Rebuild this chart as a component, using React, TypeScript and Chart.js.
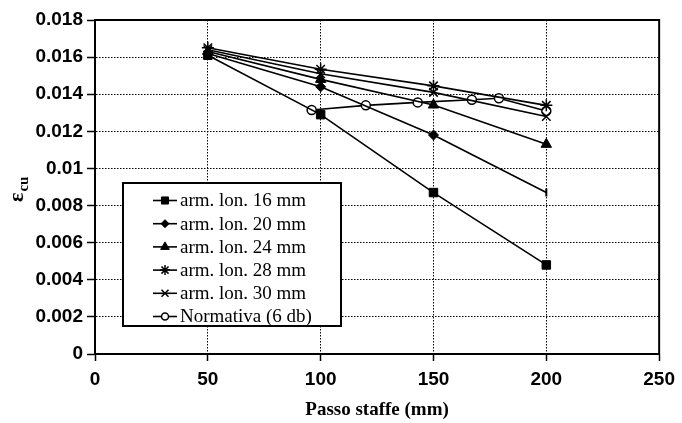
import React, { useEffect, useRef } from 'react';
import { Chart, registerables } from 'chart.js';
import { drawPoint } from 'chart.js/helpers';

Chart.register(...registerables);

// ---- data ----
const xMin = 0;
const xMax = 250;
const xStep = 50;
const yMin = 0;
const yMax = 0.018;
const yStep = 0.002;

const passo = [50, 100, 150, 200];
const arm16 = [0.0161, 0.0129, 0.0087, 0.0048];
const arm20 = [0.0162, 0.0144, 0.0118, 0.0087];
const arm24 = [0.0163, 0.0148, 0.01342, 0.0113];
const arm28 = [0.0165, 0.01535, 0.01445, 0.0134];
const arm30 = [0.0164, 0.0151, 0.0141, 0.0128];
const normX = [96, 120, 143, 167, 179, 200];
const normY = [0.01315, 0.0134, 0.01356, 0.0137, 0.01378, 0.0131];

const labels = [
  'arm. lon. 16 mm',
  'arm. lon. 20 mm',
  'arm. lon. 24 mm',
  'arm. lon. 28 mm',
  'arm. lon. 30 mm',
  'Normativa (6 db)',
];
const xTitle = 'Passo staffe (mm)';
const yTitleMain = 'ε';
const yTitleSub = 'cu';

const toPts = (xs: number[], ys: number[]) => xs.map((x, i) => ({ x, y: ys[i] }));

const series = (label: string, xs: number[], ys: number[], extra: any) => ({
  label,
  data: toPts(xs, ys),
  borderColor: '#000',
  backgroundColor: '#000',
  borderWidth: 1.6,
  pointBackgroundColor: '#000',
  pointBorderColor: '#000',
  pointBorderWidth: 1,
  tension: 0,
  fill: false,
  ...extra,
});

const framePlugin = {
  id: 'frame',
  beforeDatasetsDraw(chart: any) {
    const { ctx, chartArea: a } = chart;
    ctx.save();
    ctx.strokeStyle = '#000';
    ctx.lineWidth = 2;
    ctx.strokeRect(a.left, a.top, a.right - a.left, a.bottom - a.top);
    ctx.restore();
  },
};

const yTitlePlugin = {
  id: 'ytitle',
  afterDraw(chart: any) {
    const { ctx } = chart;
    ctx.save();
    ctx.translate(23, 202);
    ctx.rotate(-Math.PI / 2);
    ctx.fillStyle = '#000';
    ctx.textBaseline = 'alphabetic';
    ctx.textAlign = 'left';
    ctx.font = "bold 22px 'Liberation Serif'";
    ctx.fillText(yTitleMain, 0, 0);
    const w = ctx.measureText(yTitleMain).width;
    ctx.font = "bold 15px 'Liberation Serif'";
    ctx.fillText(yTitleSub, w + 1, 5);
    ctx.restore();
  },
};

const first = (v: any) => (Array.isArray(v) ? v[0] : v);

const legendPlugin = {
  id: 'boxLegend',
  afterDraw(chart: any) {
    const { ctx } = chart;
    const left = 123, top = 183, right = 341, bottom = 326;
    ctx.save();
    ctx.fillStyle = '#fff';
    ctx.fillRect(left, top, right - left, bottom - top);
    ctx.strokeStyle = '#000';
    ctx.lineWidth = 2;
    ctx.strokeRect(left, top, right - left, bottom - top);
    const rowH = 23.2;
    const y0 = 200.5;
    chart.data.datasets.forEach((ds: any, i: number) => {
      const y = y0 + i * rowH;
      ctx.strokeStyle = '#000';
      ctx.lineWidth = 1.6;
      ctx.setLineDash([]);
      ctx.beginPath();
      ctx.moveTo(153, y);
      ctx.lineTo(177, y);
      ctx.stroke();
      ctx.fillStyle = first(ds.pointBackgroundColor);
      ctx.strokeStyle = '#000';
      ctx.lineWidth = first(ds.pointBorderWidth);
      drawPoint(ctx, {
        pointStyle: first(ds.pointStyle),
        rotation: 0,
        radius: Math.max(3.5, first(ds.pointRadius) - 1),
        borderWidth: first(ds.pointBorderWidth),
      } as any, 165, y);
      ctx.fillStyle = '#000';
      ctx.font = "19px 'Liberation Serif'";
      ctx.textBaseline = 'middle';
      ctx.textAlign = 'left';
      ctx.fillText(ds.label, 180, y + 1);
    });
    ctx.restore();
  },
};

export default function App() {
  const ref = useRef<HTMLCanvasElement | null>(null);
  useEffect(() => {
    const canvas = ref.current;
    if (!canvas) return;
    const tickFont = { family: "'Liberation Sans', Arial, sans-serif", weight: 'bold' as const, size: 19 };
    const chart = new Chart(canvas, {
      type: 'line',
      data: {
        datasets: [
          series(labels[0], passo, arm16, { pointStyle: 'rect', pointRadius: 6 }),
          series(labels[1], passo, arm20, {
            pointStyle: ['rectRot', 'rectRot', 'rectRot', 'line'],
            pointRotation: [0, 0, 0, 90],
            pointRadius: [5, 5, 5, 4],
            pointBorderWidth: [1, 1, 1, 2],
          }),
          series(labels[2], passo, arm24, { pointStyle: 'triangle', pointRadius: 6 }),
          series(labels[3], passo, arm28, { pointStyle: 'star', pointRadius: 6, pointBorderWidth: 1.5 }),
          series(labels[4], passo, arm30, { pointStyle: 'crossRot', pointRadius: 6, pointBorderWidth: 1.5 }),
          series(labels[5], normX, normY, {
            pointStyle: 'circle',
            pointRadius: 4.5,
            pointBackgroundColor: '#fff',
            pointBorderWidth: 1.5,
          }),
        ] as any,
      },
      options: {
        animation: false,
        responsive: false,
        maintainAspectRatio: false,
        layout: { padding: { left: 0, right: 19, top: 20, bottom: 0 } },
        plugins: { legend: { display: false }, tooltip: { enabled: false } },
        scales: {
          x: {
            type: 'linear',
            min: xMin,
            max: xMax,
            ticks: {
              stepSize: xStep,
              color: '#000',
              font: tickFont,
              padding: 7,
              maxRotation: 0,
              autoSkip: false,
            },
            grid: {
              color: '#000',
              lineWidth: 1,
              tickLength: 7,
              tickColor: '#000',
              tickWidth: 1.5,
              tickBorderDash: [],
            } as any,
            border: { color: '#000', width: 2, dash: [1.5, 1.5] },
            title: {
              display: true,
              text: xTitle,
              color: '#000',
              font: { family: "'Liberation Serif', 'Times New Roman', serif", weight: 'bold', size: 19 },
              padding: { top: 0, bottom: 2 },
            },
            afterFit: (s: any) => {
              s.height = 69;
            },
          },
          y: {
            type: 'linear',
            min: yMin,
            max: yMax,
            ticks: {
              stepSize: yStep,
              color: '#000',
              font: tickFont,
              padding: 4,
              autoSkip: false,
              callback: (v: any) => String(Number(Number(v).toFixed(3))),
            },
            grid: {
              color: '#000',
              lineWidth: 1,
              tickLength: 8,
              tickColor: '#000',
              tickWidth: 1.5,
              tickBorderDash: [],
            } as any,
            border: { color: '#000', width: 2, dash: [1.5, 1.5] },
            afterFit: (s: any) => {
              s.width = 95;
            },
          },
        },
      } as any,
      plugins: [framePlugin, legendPlugin, yTitlePlugin],
    });
    return () => chart.destroy();
  }, []);
  return (
    <div style={{ position: 'fixed', left: 0, top: 0, width: 682, height: 423, background: '#fff' }}>
      <canvas ref={ref} width={682} height={423} style={{ display: 'block' }} />
    </div>
  );
}
